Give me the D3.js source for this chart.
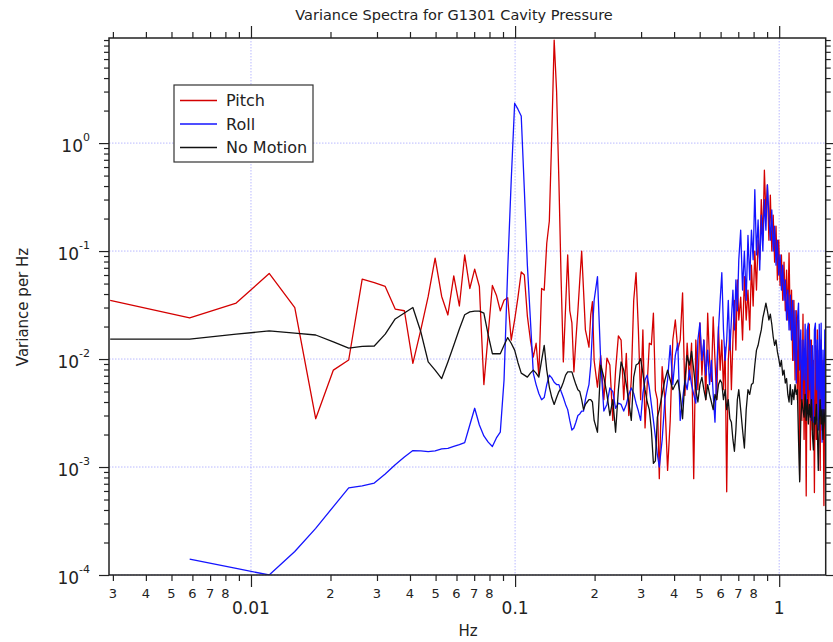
<!DOCTYPE html>
<html>
<head>
<meta charset="utf-8">
<title>Variance Spectra for G1301 Cavity Pressure</title>
<style>
  body { margin: 0; background: #fff; }
  text { font-family: "DejaVu Sans", sans-serif; fill: #222; }
  .tick line { stroke: #222; stroke-width: 1.2; }
  .grid line { stroke: #b9b9ff; stroke-width: 1; stroke-dasharray: 1.5,1.5; }
  .trace { fill: none; stroke-width: 1.3; stroke-linejoin: round; }
</style>
</head>
<body>
<div id="chart"></div>
<script src="https://cdn.jsdelivr.net/npm/d3@7"></script>
<script>
(function(d3) {
  'use strict';

  // frequency bins (Hz) shared by the three spectra
  var hz = [
    0.00293, 0.00586, 0.00879, 0.01172, 0.01465, 0.01758, 0.02051, 0.02344, 0.02637, 0.0293,
    0.03223, 0.03516, 0.03809, 0.04102, 0.04395, 0.04688, 0.0498, 0.05273, 0.05566, 0.05859,
    0.06152, 0.06445, 0.06738, 0.07031, 0.07324, 0.07617, 0.0791, 0.08203, 0.08496, 0.08789,
    0.09082, 0.09375, 0.09668, 0.09961, 0.1025, 0.1055, 0.1084, 0.1113, 0.1143, 0.1172,
    0.1201, 0.123, 0.126, 0.1289, 0.1318, 0.1348, 0.1377, 0.1406, 0.1436, 0.1465,
    0.1494, 0.1523, 0.1553, 0.1582, 0.1611, 0.1641, 0.167, 0.1699, 0.1729, 0.1758,
    0.1787, 0.1816, 0.1846, 0.1875, 0.1904, 0.1934, 0.1963, 0.1992,
    0.2051, 0.2109, 0.2168, 0.2227, 0.2285, 0.2344, 0.2402, 0.2461, 0.252, 0.2578,
    0.2637, 0.2695, 0.2754, 0.2813, 0.2871, 0.293, 0.2988, 0.3047, 0.3105, 0.3164,
    0.3223, 0.3281, 0.334, 0.3398, 0.3457, 0.3516,
    0.3604, 0.3691, 0.3779, 0.3867, 0.3955, 0.4043, 0.4131, 0.4219, 0.4307, 0.4395,
    0.4482, 0.457, 0.4658, 0.4746, 0.4834, 0.4922, 0.501, 0.5098, 0.5186, 0.5273,
    0.5361, 0.5449, 0.5537, 0.5625, 0.5713, 0.5801, 0.5889, 0.5977, 0.6064, 0.6152,
    0.624, 0.6328, 0.6416, 0.6504, 0.6592, 0.668, 0.6768, 0.6855, 0.6943, 0.7031,
    0.7148, 0.7266, 0.7383, 0.75, 0.7617, 0.7734, 0.7852, 0.7969, 0.8086, 0.8203,
    0.832, 0.8438, 0.8555, 0.8672, 0.8789, 0.8906, 0.9023, 0.9141, 0.9258, 0.9375,
    0.9492, 0.9609, 0.9727, 0.9844, 0.9961, 1.0078, 1.0195, 1.0313, 1.043, 1.0547,
    1.0664, 1.0781, 1.0898, 1.1016, 1.1133, 1.125, 1.1367, 1.1484, 1.1602, 1.1719,
    1.1836, 1.1953, 1.207, 1.2188, 1.2305, 1.2422, 1.2539, 1.2656, 1.2773, 1.2891,
    1.3008, 1.3125, 1.3242, 1.3359, 1.3477, 1.3594, 1.3711, 1.3828, 1.3945, 1.4063,
    1.418, 1.4297, 1.4414, 1.4531, 1.4648, 1.4766, 1.4883, 1.5
  ];

  var pitch = [
    0.035, 0.024, 0.033, 0.062, 0.030, 0.0028, 0.0079, 0.0098, 0.055, 0.051,
    0.047, 0.029, 0.028, 0.0091, 0.0186, 0.038, 0.086, 0.038, 0.0256, 0.059,
    0.031, 0.092, 0.045, 0.068, 0.047, 0.0058, 0.017, 0.048, 0.039, 0.028,
    0.035, 0.037, 0.015, 0.023, 0.037, 0.064, 0.060, 0.025, 0.015, 0.0104,
    0.014, 0.0071, 0.045, 0.0435, 0.118, 0.19, 1.2, 9.0, 3.0, 0.45,
    0.054, 0.0094, 0.030, 0.092, 0.028, 0.0216, 0.0076, 0.015, 0.028, 0.054,
    0.10, 0.0435, 0.0186, 0.0155, 0.0129, 0.0256, 0.034, 0.0097,
    0.0055, 0.0108, 0.0042, 0.0102, 0.0088, 0.0027, 0.0079, 0.0164, 0.015, 0.0042,
    0.0113, 0.003, 0.0064, 0.035, 0.063, 0.0186, 0.0042, 0.0186, 0.0023, 0.0058,
    0.014, 0.0136, 0.0266, 0.0051, 0.0042, 0.00078,
    0.0085, 0.0042, 0.00093, 0.0027, 0.015, 0.023, 0.0121, 0.015, 0.041, 0.0046,
    0.014, 0.0064, 0.014, 0.00078, 0.015, 0.0052, 0.0216, 0.0071, 0.015, 0.0042,
    0.0266, 0.0097, 0.0062, 0.0245, 0.0097, 0.0042, 0.02, 0.0079, 0.015, 0.0052,
    0.0129, 0.00059, 0.0097, 0.0186, 0.0052, 0.015, 0.035, 0.0121, 0.054, 0.023,
    0.0375, 0.015, 0.058, 0.023, 0.0435, 0.0186, 0.074, 0.031, 0.10, 0.0435,
    0.126, 0.083, 0.30, 0.126, 0.56, 0.215, 0.41, 0.126, 0.33, 0.10,
    0.215, 0.079, 0.17, 0.054, 0.126, 0.048, 0.092, 0.035, 0.079, 0.028,
    0.0667, 0.023, 0.096, 0.0186, 0.0435, 0.0097, 0.035, 0.0064, 0.028, 0.0042,
    0.023, 0.00076, 0.015, 0.0027, 0.026, 0.0018, 0.0121, 0.00054, 0.0186, 0.0034,
    0.021, 0.00144, 0.015, 0.0022, 0.0097, 0.00058, 0.0133, 0.0018, 0.0186, 0.0027,
    0.0121, 0.00093, 0.015, 0.0022, 0.0097, 0.00044, 0.0064, 0.0027
  ];

  var roll = [
    null, 0.00014, 0.000115, 0.0001, 0.000165, 0.00027, 0.00043, 0.00064, 0.00067, 0.00071,
    0.00086, 0.00105, 0.00124, 0.00142, 0.00141, 0.00139, 0.00141, 0.00147, 0.00149, 0.00155,
    0.00161, 0.00168, 0.00245, 0.0035, 0.00245, 0.00194, 0.0017, 0.00155, 0.00186, 0.0021,
    0.0064, 0.067, 0.45, 2.34, 2.06, 1.78, 0.37, 0.074, 0.023, 0.0074,
    0.0058, 0.0048, 0.0042, 0.0044, 0.0058, 0.0071, 0.0067, 0.0061, 0.0058, 0.0058,
    0.005, 0.0044, 0.0038, 0.0034, 0.0027, 0.0022, 0.0023, 0.0026, 0.003, 0.0031,
    0.0033, 0.0033, 0.0042, 0.005, 0.0058, 0.0088, 0.0186, 0.035,
    0.058, 0.0097, 0.0033, 0.0038, 0.0054, 0.005, 0.0035, 0.0039, 0.0038, 0.0033,
    0.0038, 0.0047, 0.0054, 0.0048, 0.0039, 0.0033, 0.0027, 0.0048, 0.0064, 0.0071,
    0.0054, 0.0038, 0.0027, 0.0019, 0.0013, 0.001,
    0.00178, 0.0042, 0.0064, 0.0134, 0.0058, 0.0108, 0.014, 0.0027, 0.0042, 0.0064,
    0.0052, 0.0079, 0.0058, 0.0047, 0.0039, 0.015, 0.0216, 0.0097, 0.015, 0.0071,
    0.0121, 0.0058, 0.0097, 0.0047, 0.0026, 0.0079, 0.0186, 0.035, 0.063, 0.0186,
    0.0097, 0.015, 0.035, 0.0121, 0.023, 0.0435, 0.0186, 0.054, 0.028, 0.083,
    0.156, 0.0435, 0.10, 0.035, 0.14, 0.054, 0.156, 0.083, 0.37, 0.092,
    0.194, 0.0667, 0.215, 0.10, 0.30, 0.156, 0.41, 0.215, 0.126, 0.24,
    0.10, 0.17, 0.074, 0.126, 0.06, 0.092, 0.0435, 0.074, 0.035, 0.054,
    0.023, 0.0435, 0.0186, 0.039, 0.015, 0.035, 0.0097, 0.028, 0.006, 0.023,
    0.033, 0.0079, 0.0186, 0.0042, 0.015, 0.0064, 0.021, 0.0034, 0.0186, 0.0215,
    0.0052, 0.015, 0.0027, 0.0133, 0.0026, 0.0186, 0.0215, 0.0052, 0.015, 0.0022,
    0.021, 0.0042, 0.0215, 0.0017, 0.0121, 0.0027, 0.0186, 0.0027
  ];

  var noMotion = [
    0.0153, 0.0153, 0.017, 0.0182, 0.0174, 0.0167, 0.0144, 0.0126, 0.0131, 0.0132,
    0.017, 0.0235, 0.0267, 0.030, 0.0179, 0.0094, 0.0079, 0.0066, 0.0094, 0.0134,
    0.019, 0.0257, 0.0273, 0.0278, 0.0278, 0.0266, 0.0167, 0.0112, 0.0112, 0.0112,
    0.0134, 0.0158, 0.014, 0.0121, 0.0093, 0.0074, 0.0071, 0.0068, 0.0074, 0.0079,
    0.0074, 0.0068, 0.0097, 0.0134, 0.0079, 0.0055, 0.0044, 0.0038, 0.0044, 0.005,
    0.0054, 0.0061, 0.0071, 0.0076, 0.0076, 0.0076, 0.0066, 0.0058, 0.0052, 0.005,
    0.0042, 0.0034, 0.0038, 0.004, 0.0042, 0.0042, 0.004, 0.0027,
    0.0021, 0.0088, 0.0068, 0.0047, 0.003, 0.0042, 0.0021, 0.0052, 0.0094, 0.0079,
    0.0058, 0.004, 0.0027, 0.0068, 0.0088, 0.0091, 0.0101, 0.0074, 0.0052, 0.004,
    0.0034, 0.0022, 0.00108, 0.00114, 0.0029, 0.0034,
    0.0047, 0.0064, 0.0079, 0.0064, 0.0052, 0.0058, 0.0064, 0.0047, 0.0028, 0.0064,
    0.0108, 0.0088, 0.0118, 0.0079, 0.0052, 0.004, 0.0058, 0.0068, 0.0052, 0.0042,
    0.0058, 0.0047, 0.004, 0.0034, 0.0047, 0.0042, 0.0058, 0.0064, 0.006, 0.0042,
    0.0052, 0.0034, 0.0042, 0.0028, 0.0026, 0.0018, 0.0014, 0.0022, 0.0042, 0.0052,
    0.0034, 0.0022, 0.0015, 0.0034, 0.0052, 0.0047, 0.0058, 0.006, 0.0088, 0.0121,
    0.0134, 0.016, 0.0186, 0.024, 0.028, 0.033, 0.028, 0.023, 0.026, 0.021,
    0.016, 0.0134, 0.015, 0.0117, 0.0101, 0.0085, 0.0097, 0.0071, 0.0079, 0.006,
    0.0066, 0.0047, 0.004, 0.0058, 0.0038, 0.0052, 0.0042, 0.0058, 0.0047, 0.0052,
    0.0018, 0.00073, 0.0027, 0.0042, 0.0034, 0.0029, 0.0047, 0.0027, 0.0042, 0.0025,
    0.0038, 0.0029, 0.0042, 0.002, 0.00144, 0.0029, 0.0025, 0.0038, 0.0022, 0.00093,
    0.0027, 0.0042, 0.0025, 0.0034, 0.0018, 0.0034, 0.0027, 0.0022
  ];

  var seriesNames = ['Pitch', 'Roll', 'No Motion'];
  var xMajorTicks = [0.01, 0.1, 1];
  var xMajorLabels = ['0.01', '0.1', '1'];
  var xMinorDigits = ['2', '3', '4', '5', '6', '7', '8'];
  var yExponents = [-4, -3, -2, -1, 0];

  var width = 833;
  var height = 642;
  var margin = { top: 38, right: 7.3, bottom: 67, left: 109 };
  var innerW = width - margin.left - margin.right;
  var innerH = height - margin.top - margin.bottom;

  var color = d3.scaleOrdinal()
    .domain(seriesNames)
    .range(['#d40000', '#1414ff', '#111111']);

  var x = d3.scaleLog().domain([0.0029, 1.5]).range([0, innerW]);
  var y = d3.scaleLog().domain([1e-4, 9.4]).range([innerH, 0]);

  var svg = d3.select('#chart')
    .append('svg')
    .attr('width', width)
    .attr('height', height);

  var g = svg.append('g')
    .attr('transform', 'translate(' + margin.left + ',' + margin.top + ')');

  // minor tick values, one per digit 2..9 inside each decade
  var xMinor = [];
  var yMinor = [];
  [-3, -2, -1, 0].forEach(function(e) {
    for (var m = 2; m <= 9; m++) {
      var v = m * Math.pow(10, e);
      if (v > x.domain()[0] && v < x.domain()[1]) xMinor.push(v);
    }
  });
  yExponents.forEach(function(e) {
    for (var m = 2; m <= 9; m++) {
      var v = m * Math.pow(10, e);
      if (v < y.domain()[1]) yMinor.push(v);
    }
  });

  // dotted grid at the decades
  var grid = g.append('g').attr('class', 'grid');
  grid.selectAll('.gx').data(xMajorTicks).enter().append('line')
    .attr('x1', function(d) { return x(d); })
    .attr('x2', function(d) { return x(d); })
    .attr('y1', 0).attr('y2', innerH);
  grid.selectAll('.gy').data(yExponents).enter().append('line')
    .attr('x1', 0).attr('x2', innerW)
    .attr('y1', function(d) { return y(Math.pow(10, d)); })
    .attr('y2', function(d) { return y(Math.pow(10, d)); });

  function noDomain(sel) { sel.select('.domain').remove(); }

  // ticks on all four sides, pointing out
  g.append('g').attr('transform', 'translate(0,' + innerH + ')')
    .call(d3.axisBottom(x).tickValues(xMinor).tickSize(6).tickFormat(''))
    .call(noDomain);
  g.append('g').attr('transform', 'translate(0,' + innerH + ')')
    .call(d3.axisBottom(x).tickValues(xMajorTicks).tickSize(12).tickFormat(''))
    .call(noDomain);
  g.append('g')
    .call(d3.axisTop(x).tickValues(xMinor).tickSize(6).tickFormat(''))
    .call(noDomain);
  g.append('g')
    .call(d3.axisTop(x).tickValues(xMajorTicks).tickSize(12).tickFormat(''))
    .call(noDomain);
  g.append('g')
    .call(d3.axisLeft(y).tickValues(yMinor).tickSize(5).tickFormat(''))
    .call(noDomain);
  g.append('g')
    .call(d3.axisLeft(y).tickValues(yExponents.map(function(e) { return Math.pow(10, e); }))
      .tickSize(10).tickFormat(''))
    .call(noDomain);
  g.append('g').attr('transform', 'translate(' + innerW + ',0)')
    .call(d3.axisRight(y).tickValues(yMinor).tickSize(5).tickFormat(''))
    .call(noDomain);
  g.append('g').attr('transform', 'translate(' + innerW + ',0)')
    .call(d3.axisRight(y).tickValues(yExponents.map(function(e) { return Math.pow(10, e); }))
      .tickSize(10).tickFormat(''))
    .call(noDomain);

  // traces
  var plot = g.append('g');
  svg.append('defs').append('clipPath').attr('id', 'clip')
    .append('rect').attr('width', innerW).attr('height', innerH);
  plot.attr('clip-path', 'url(#clip)');

  var line = d3.line()
    .defined(function(d) { return d[1] != null; })
    .x(function(d) { return x(d[0]); })
    .y(function(d) { return y(d[1]); });

  [pitch, roll, noMotion].forEach(function(vals, i) {
    plot.append('path')
      .datum(hz.map(function(f, j) { return [f, vals[j]]; }))
      .attr('class', 'trace')
      .attr('stroke', color(seriesNames[i]))
      .attr('d', line);
  });

  // frame
  g.append('rect')
    .attr('width', innerW).attr('height', innerH)
    .attr('fill', 'none').attr('stroke', '#222').attr('stroke-width', 1.5);

  // x labels
  var minorLabelVals = xMinor.filter(function(v) {
    var m = Math.round(v / Math.pow(10, Math.floor(Math.log10(v) + 1e-9)));
    return xMinorDigits.indexOf(String(m)) >= 0;
  });
  g.selectAll('.xminor').data(minorLabelVals).enter().append('text')
    .attr('x', function(d) { return x(d); })
    .attr('y', innerH + 23)
    .attr('text-anchor', 'middle')
    .style('font-size', '13px')
    .text(function(d) {
      return String(Math.round(d / Math.pow(10, Math.floor(Math.log10(d) + 1e-9))));
    });
  g.selectAll('.xmajor').data(xMajorTicks).enter().append('text')
    .attr('x', function(d) { return x(d); })
    .attr('y', innerH + 39)
    .attr('text-anchor', 'middle')
    .style('font-size', '17px')
    .text(function(d, i) { return xMajorLabels[i]; });

  // y labels as 10 with a raised exponent
  var ylab = g.selectAll('.ylab').data(yExponents).enter().append('text')
    .attr('x', -19)
    .attr('y', function(d) { return y(Math.pow(10, d)) + 9; })
    .attr('text-anchor', 'end');
  ylab.append('tspan').style('font-size', '17px').text('10');
  ylab.append('tspan').attr('dy', -11).style('font-size', '11px')
    .text(function(d) { return d; });

  // axis titles and chart title
  svg.append('text')
    .attr('x', 468).attr('y', 636)
    .attr('text-anchor', 'middle')
    .style('font-size', '15px')
    .text('Hz');
  svg.append('text')
    .attr('transform', 'translate(28,307) rotate(-90)')
    .attr('text-anchor', 'middle')
    .style('font-size', '15px')
    .text('Variance per Hz');
  svg.append('text')
    .attr('x', 454).attr('y', 20)
    .attr('text-anchor', 'middle')
    .style('font-size', '14.5px')
    .text('Variance Spectra for G1301 Cavity Pressure');

  // legend
  var legend = svg.append('g').attr('transform', 'translate(174,85)');
  legend.append('rect')
    .attr('width', 139).attr('height', 77)
    .attr('fill', '#fff').attr('stroke', '#333').attr('stroke-width', 1.2);
  var item = legend.selectAll('.item').data(seriesNames).enter().append('g')
    .attr('transform', function(d, i) { return 'translate(0,' + (15.5 + i * 23.5) + ')'; });
  item.append('line')
    .attr('x1', 6).attr('x2', 43)
    .attr('stroke', function(d) { return color(d); })
    .attr('stroke-width', 1.3);
  item.append('text')
    .attr('x', 52).attr('y', 5.5)
    .style('font-size', '16px')
    .text(function(d) { return d; });
})(window.d3);
</script>
</body>
</html>
